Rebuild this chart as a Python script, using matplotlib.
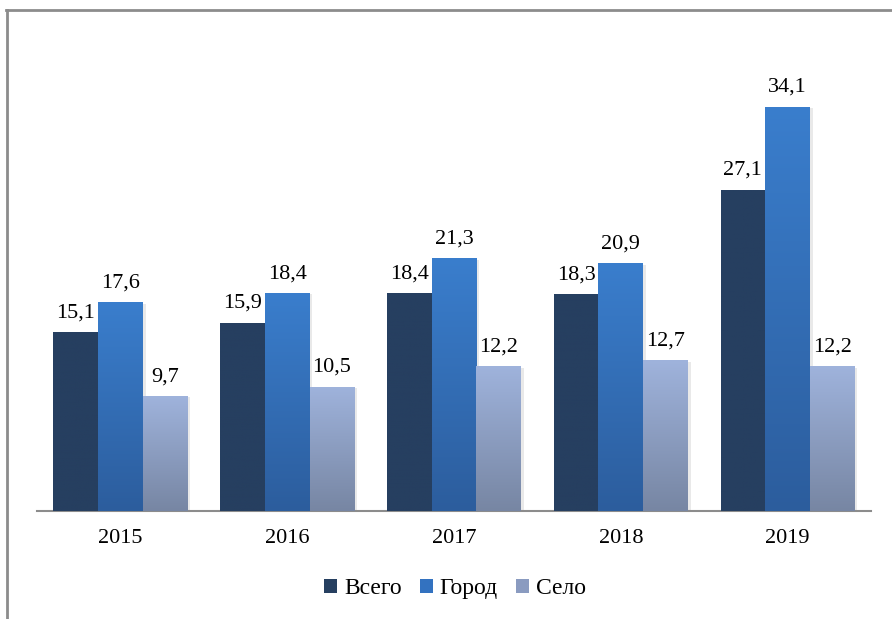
import numpy as np
import matplotlib.pyplot as plt
from matplotlib import patheffects as pe
from matplotlib.colors import LinearSegmentedColormap
from matplotlib.lines import Line2D
from matplotlib.patches import Patch

years = ["2015", "2016", "2017", "2018", "2019"]
vsego = [15.1, 15.9, 18.4, 18.3, 27.1]
gorod = [17.6, 18.4, 21.3, 20.9, 34.1]
selo = [9.7, 10.5, 12.2, 12.7, 12.2]
series_names = ["Всего", "Город", "Село"]

# (top colour, bottom colour) for each series
grads = [("#263f60", "#263f60"), ("#3a7ecd", "#2c5d9d"), ("#9fb3dc", "#7786a3")]

plt.rcParams['font.family'] = ['Liberation Serif', 'DejaVu Serif']

fig = plt.figure(figsize=(8.92, 6.19), dpi=100)
ax = fig.add_axes([0.0415, 0.1745, 0.935, 0.766])

x = np.arange(len(years))
w = 0.268
data = [vsego, gorod, selo]
grad = np.linspace(0, 1, 256).reshape(-1, 1)

for i, (vals, (c_top, c_bot)) in enumerate(zip(data, grads)):
    cmap = LinearSegmentedColormap.from_list("g%d" % i, [c_bot, c_top])
    pos = x + (i - 1) * w
    bars = ax.bar(pos, vals, width=w, color=c_top, zorder=2,
                  path_effects=[pe.SimplePatchShadow(offset=(2, -1), shadow_rgbFace="#aaaaaa", alpha=0.25),
                                pe.Normal()])
    for b, v in zip(bars, vals):
        im = ax.imshow(grad, cmap=cmap, origin="lower", aspect="auto", zorder=3,
                       extent=(b.get_x(), b.get_x() + b.get_width(), 0, v))
        im.set_clip_path(b)
        ax.annotate(f"{v:.1f}".replace(".", ","), (b.get_x() + b.get_width() / 2, v),
                    xytext=(0, 7), textcoords="offset points", ha="center", va="bottom",
                    fontsize=16, color="black")

ax.set_xlim(-0.5, len(years) - 0.5)
ax.set_ylim(0, 40)
ax.set_xticks(x)
ax.set_xticklabels(years, fontsize=16)
ax.tick_params(axis="x", length=0, pad=13)
ax.set_yticks([])
for s in ["top", "right", "left"]:
    ax.spines[s].set_visible(False)
ax.spines["bottom"].set_color("#8c8c8c")
ax.spines["bottom"].set_linewidth(1.5)

handles = [Patch(facecolor=c, edgecolor="none") for c in ["#263f60", "#3372c0", "#8a9bc0"]]
fig.legend(handles, series_names, loc="center", bbox_to_anchor=(0.51, 0.049), ncol=3,
           frameon=False, fontsize=17, handlelength=0.55, handleheight=0.55,
           handletextpad=0.3, columnspacing=0.75)

# outer frame (left and top edges)
fig.add_artist(Line2D([0.008, 0.008], [0, 0.984], transform=fig.transFigure, color="#8c8c8c", lw=2))
fig.add_artist(Line2D([0.007, 1.0], [0.984, 0.984], transform=fig.transFigure, color="#8c8c8c", lw=2))

fig.savefig("out.png", dpi=100, facecolor="white")
